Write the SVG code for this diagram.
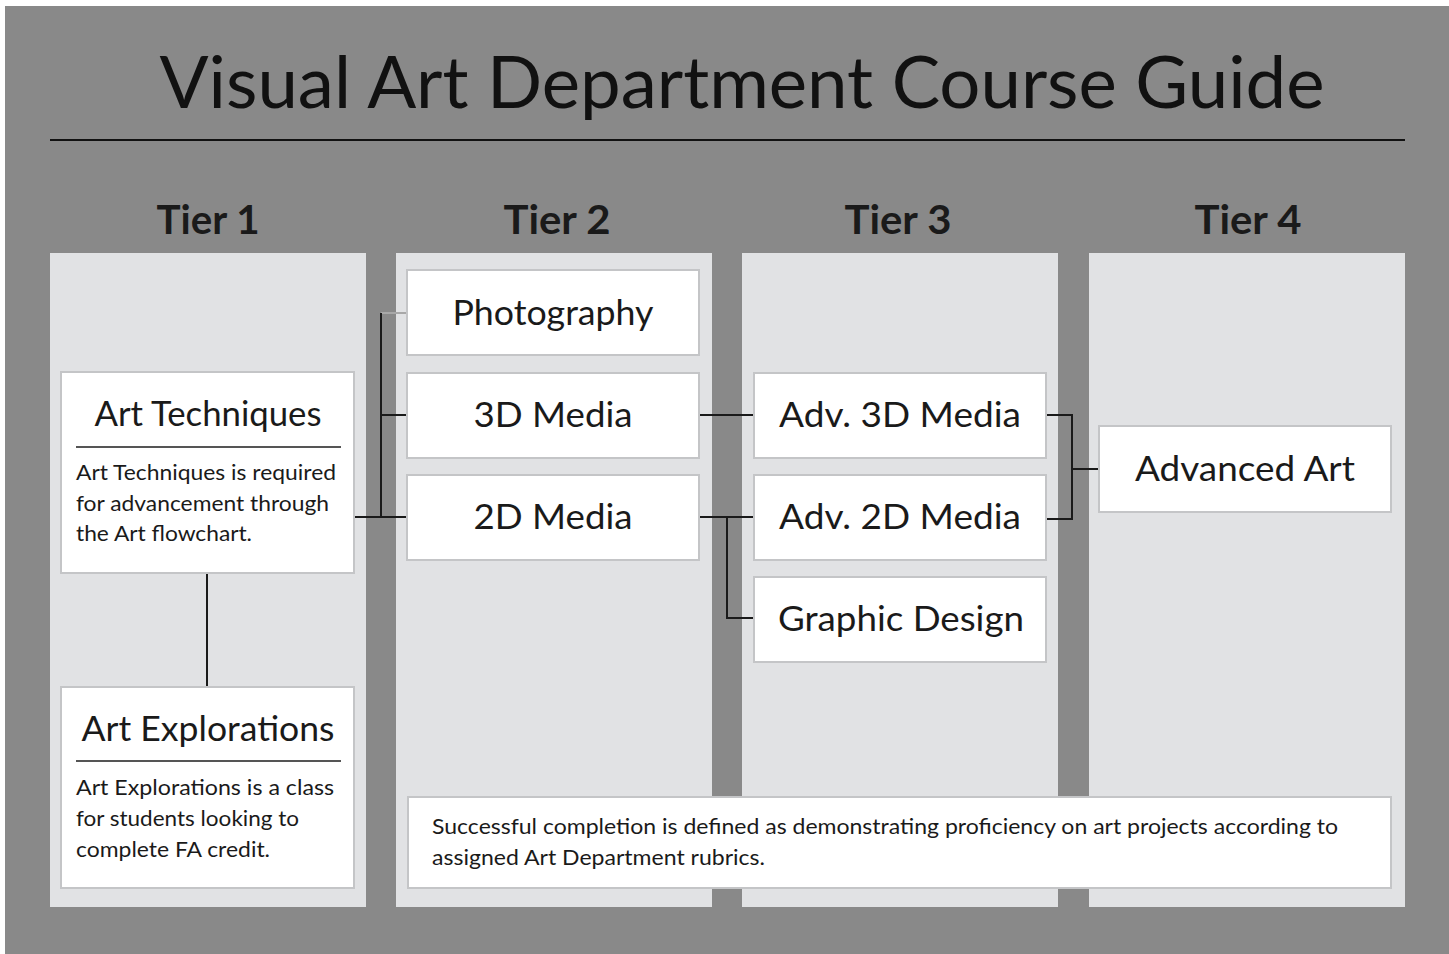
<svg xmlns="http://www.w3.org/2000/svg" width="1449" height="954" viewBox="0 0 1449 954">
<style>
text{font-family:Lato,"Liberation Sans",sans-serif;fill:#1a1a1a}
.col{fill:#e1e2e4}
.box{fill:#ffffff;stroke:#c4c5c7;stroke-width:2}
.ttl{font-size:34px;text-anchor:middle}
.tier{font-size:40px;text-anchor:middle;font-weight:bold}
.body{font-size:21px}
.conn{stroke:#1a1a1a;stroke-width:2;fill:none}
.div{stroke:#555;stroke-width:2}
</style>
<rect x="0" y="0" width="1449" height="954" fill="#ffffff"/>
<rect x="5" y="6" width="1444" height="948" fill="#898989"/>
<text x="742" y="108" font-size="72" text-anchor="middle" textLength="1165" lengthAdjust="spacingAndGlyphs" style="fill:#111">Visual Art Department Course Guide</text>
<line x1="50" y1="140" x2="1405" y2="140" stroke="#111" stroke-width="2"/>
<g id="columns">
<rect class="col" x="50" y="253" width="316" height="654"/>
<rect class="col" x="396" y="253" width="316" height="654"/>
<rect class="col" x="742" y="253" width="316" height="654"/>
<rect class="col" x="1089" y="253" width="316" height="654"/>
<text class="tier" x="208" y="234" textLength="103" lengthAdjust="spacingAndGlyphs">Tier 1</text>
<text class="tier" x="557" y="234" textLength="107" lengthAdjust="spacingAndGlyphs">Tier 2</text>
<text class="tier" x="898" y="234" textLength="107" lengthAdjust="spacingAndGlyphs">Tier 3</text>
<text class="tier" x="1248" y="234" textLength="107" lengthAdjust="spacingAndGlyphs">Tier 4</text>
</g>
<g id="connectors">
<line x1="381" y1="313" x2="407" y2="313" stroke="#a8a8a8" stroke-width="2"/>
<polyline class="conn" points="381,313 381,517"/>
<line class="conn" x1="381" y1="415" x2="407" y2="415"/>
<line class="conn" x1="354" y1="517" x2="407" y2="517"/>
<line class="conn" x1="207" y1="573" x2="207" y2="687"/>
<line class="conn" x1="699" y1="415" x2="754" y2="415"/>
<line class="conn" x1="699" y1="517" x2="754" y2="517"/>
<polyline class="conn" points="727,517 727,618 754,618"/>
<polyline class="conn" points="1046,415 1072,415 1072,519 1046,519"/>
<line class="conn" x1="1072" y1="469" x2="1099" y2="469"/>
</g>
<g id="art-techniques">
<rect class="box" x="61" y="372" width="293" height="201"/>
<text class="ttl" x="208" y="426" font-size="33" textLength="227" lengthAdjust="spacingAndGlyphs">Art Techniques</text>
<line class="div" x1="76" y1="447" x2="341" y2="447"/>
<text class="body" x="76" y="480" textLength="260" lengthAdjust="spacingAndGlyphs">Art Techniques is required</text>
<text class="body" x="76" y="511" textLength="253" lengthAdjust="spacingAndGlyphs">for advancement through</text>
<text class="body" x="76" y="541" textLength="176" lengthAdjust="spacingAndGlyphs">the Art flowchart.</text>
</g>
<g id="art-explorations">
<rect class="box" x="61" y="687" width="293" height="201"/>
<text class="ttl" x="208" y="741" font-size="33" textLength="253" lengthAdjust="spacingAndGlyphs">Art Explorations</text>
<line class="div" x1="76" y1="761" x2="341" y2="761"/>
<text class="body" x="76" y="795" textLength="258" lengthAdjust="spacingAndGlyphs">Art Explorations is a class</text>
<text class="body" x="76" y="826" textLength="223" lengthAdjust="spacingAndGlyphs">for students looking to</text>
<text class="body" x="76" y="857" textLength="194" lengthAdjust="spacingAndGlyphs">complete FA credit.</text>
</g>
<g id="photography">
<rect class="box" x="407" y="270" width="292" height="85"/>
<text class="ttl" x="553" y="325" textLength="201" lengthAdjust="spacingAndGlyphs">Photography</text>
</g>
<g id="media-3d">
<rect class="box" x="407" y="373" width="292" height="85"/>
<text class="ttl" x="553" y="427" textLength="159" lengthAdjust="spacingAndGlyphs">3D Media</text>
</g>
<g id="media-2d">
<rect class="box" x="407" y="475" width="292" height="85"/>
<text class="ttl" x="553" y="529" textLength="159" lengthAdjust="spacingAndGlyphs">2D Media</text>
</g>
<g id="adv-3d">
<rect class="box" x="754" y="373" width="292" height="85"/>
<text class="ttl" x="900" y="427" textLength="242" lengthAdjust="spacingAndGlyphs">Adv. 3D Media</text>
</g>
<g id="adv-2d">
<rect class="box" x="754" y="475" width="292" height="85"/>
<text class="ttl" x="900" y="529" textLength="242" lengthAdjust="spacingAndGlyphs">Adv. 2D Media</text>
</g>
<g id="graphic-design">
<rect class="box" x="754" y="577" width="292" height="85"/>
<text class="ttl" x="901" y="631" textLength="246" lengthAdjust="spacingAndGlyphs">Graphic Design</text>
</g>
<g id="advanced-art">
<rect class="box" x="1099" y="426" width="292" height="86"/>
<text class="ttl" x="1245" y="481" textLength="220" lengthAdjust="spacingAndGlyphs">Advanced Art</text>
</g>
<g id="note">
<rect class="box" x="408" y="797" width="983" height="91"/>
<text class="body" x="432" y="834" textLength="906" lengthAdjust="spacingAndGlyphs">Successful completion is defined as demonstrating proficiency on art projects according to</text>
<text class="body" x="432" y="865" textLength="333" lengthAdjust="spacingAndGlyphs">assigned Art Department rubrics.</text>
</g>
</svg>
